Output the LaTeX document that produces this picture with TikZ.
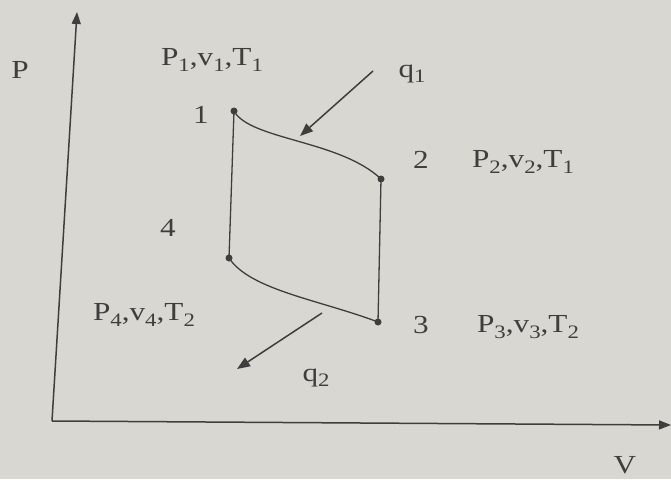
\documentclass[tikz,border=0pt]{standalone}
\usepackage{fontspec}
\setmainfont{Liberation Serif}[FakeStretch=1.2]
\usetikzlibrary{arrows.meta}
\definecolor{bg}{RGB}{216,215,210}
\definecolor{ink}{RGB}{62,62,60}
\newcommand{\sub}[1]{\raisebox{-0.2em}{\fontsize{19}{19}\selectfont #1}}
\begin{document}
\begin{tikzpicture}[x=1pt,y=-1pt,
  lbl/.style={text=ink,font=\fontsize{26}{29}\selectfont,inner sep=0pt},
  line/.style={draw=ink,line width=1.3pt},
  axis/.style={draw=ink,line width=1.5pt,-{Triangle[length=12pt,width=9pt]}},
  heat/.style={draw=ink,line width=1.5pt,-{Triangle[length=13pt,width=10pt]}},
  dot/.style={circle,fill=ink,inner sep=0pt,minimum size=7pt}]
\fill[bg] (0,0) rectangle (671,479);
\useasboundingbox (0,0) rectangle (671,479);
% axes
\coordinate (O) at (52,421);
\coordinate (Ptop) at (77,12);
\coordinate (Vend) at (671,425);
\draw[axis] (O) -- (Ptop);
\draw[axis] (O) -- (Vend);
\node[lbl] (P) at (20,70) {P};
\node[lbl] (V) at (625,465) {V};
% state points
\node[dot] (p1) at (234,111) {};
\node[dot] (p2) at (381,179) {};
\node[dot] (p3) at (378,322) {};
\node[dot] (p4) at (229,258) {};
% cycle
\draw[line] (p1.center) .. controls (250,140) and (340,140) .. (p2.center);
\draw[line] (p2.center) -- (p3.center);
\draw[line] (p3.center) .. controls (320,300) and (250,290) .. (p4.center);
\draw[line] (p4.center) -- (p1.center);
% numbers
\node[lbl] (n1) at (201,115) {1};
\node[lbl] (n2) at (421,160) {2};
\node[lbl] (n3) at (421,325) {3};
\node[lbl] (n4) at (168,228) {4};
% state labels
\node[lbl] (s1) at (212,60) {P\sub{1},v\sub{1},T\sub{1}};
\node[lbl] (s2) at (523,162) {P\sub{2},v\sub{2},T\sub{1}};
\node[lbl] (s3) at (528,327) {P\sub{3},v\sub{3},T\sub{2}};
\node[lbl] (s4) at (144,315) {P\sub{4},v\sub{4},T\sub{2}};
% heat
\node[lbl] (q1) at (412,74) {q\sub{1}};
\node[lbl] (q2) at (316,378) {q\sub{2}};
\coordinate (a1s) at (373,71);
\coordinate (a1e) at (300,136);
\coordinate (a2s) at (322,313);
\coordinate (a2e) at (237,369);
\draw[heat] (a1s) -- (a1e);
\draw[heat] (a2s) -- (a2e);
\end{tikzpicture}
\end{document}
